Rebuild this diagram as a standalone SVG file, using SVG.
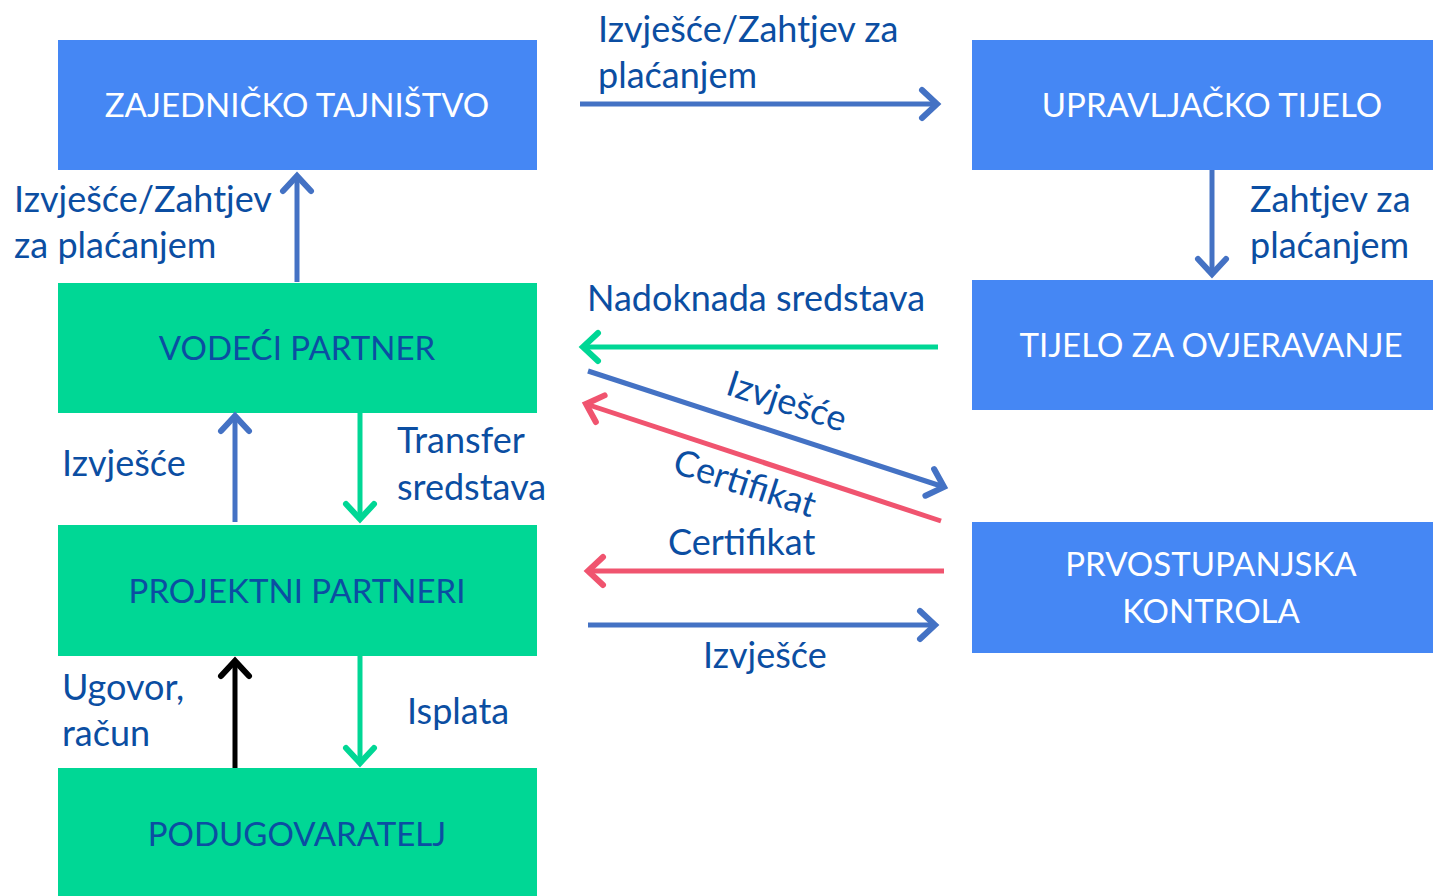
<svg xmlns="http://www.w3.org/2000/svg" width="1433" height="896" viewBox="0 0 1433 896">
<style>
.bb{fill:#4587F4}
.gb{fill:#00D795}
.wt{fill:#FFFFFF;font-family:Lato,"Liberation Sans",sans-serif;font-size:33px;text-anchor:middle}
.dt{fill:#0B4EA2;font-family:Lato,"Liberation Sans",sans-serif;font-size:33px;text-anchor:middle}
.lb{fill:#0B4EA2;font-family:Lato,"Liberation Sans",sans-serif;font-size:36px}
.c{fill:none;stroke-width:5}
.blue{stroke:#4472C4}
.green{stroke:#00D795}
.red{stroke:#F0546F}
.black{stroke:#000000}
</style>
<defs>
<marker id="mb" markerUnits="userSpaceOnUse" orient="auto" refX="0" refY="0" markerWidth="40" markerHeight="40" viewBox="-20 -20 40 40" overflow="visible"><path d="M-15,-14 L0,0 L-15,14" fill="none" stroke="#4472C4" stroke-width="6" stroke-linecap="round"/></marker>
<marker id="mg" markerUnits="userSpaceOnUse" orient="auto" refX="0" refY="0" markerWidth="40" markerHeight="40" viewBox="-20 -20 40 40" overflow="visible"><path d="M-15,-14 L0,0 L-15,14" fill="none" stroke="#00D795" stroke-width="6" stroke-linecap="round"/></marker>
<marker id="mr" markerUnits="userSpaceOnUse" orient="auto" refX="0" refY="0" markerWidth="40" markerHeight="40" viewBox="-20 -20 40 40" overflow="visible"><path d="M-15,-14 L0,0 L-15,14" fill="none" stroke="#F0546F" stroke-width="6" stroke-linecap="round"/></marker>
<marker id="mk" markerUnits="userSpaceOnUse" orient="auto" refX="0" refY="0" markerWidth="40" markerHeight="40" viewBox="-20 -20 40 40" overflow="visible"><path d="M-15,-14 L0,0 L-15,14" fill="none" stroke="#000000" stroke-width="6" stroke-linecap="round"/></marker>
</defs>
<rect width="1433" height="896" fill="#FFFFFF"/>
<g id="zajednicko-tajnistvo"><rect class="bb" x="58" y="40" width="479" height="130"/><text class="wt" x="297" y="117">ZAJEDNIČKO TAJNIŠTVO</text></g>
<g id="upravljacko-tijelo"><rect class="bb" x="972" y="40" width="461" height="130"/><text class="wt" x="1212" y="117">UPRAVLJAČKO TIJELO</text></g>
<g id="tijelo-za-ovjeravanje"><rect class="bb" x="972" y="280" width="461" height="130"/><text class="wt" x="1211" y="357">TIJELO ZA OVJERAVANJE</text></g>
<g id="prvostupanjska-kontrola"><rect class="bb" x="972" y="522" width="461" height="131"/><text class="wt" x="1211" y="576">PRVOSTUPANJSKA</text><text class="wt" x="1211" y="623">KONTROLA</text></g>
<g id="vodeci-partner"><rect class="gb" x="58" y="283" width="479" height="130"/><text class="dt" x="297" y="360">VODEĆI PARTNER</text></g>
<g id="projektni-partneri"><rect class="gb" x="58" y="525" width="479" height="131"/><text class="dt" x="297" y="603">PROJEKTNI PARTNERI</text></g>
<g id="podugovaratelj"><rect class="gb" x="58" y="768" width="479" height="128"/><text class="dt" x="297" y="846">PODUGOVARATELJ</text></g>
<g id="connectors">
<line class="c blue" x1="580" y1="104" x2="937" y2="104" marker-end="url(#mb)"/>
<line class="c blue" x1="297" y1="282" x2="297" y2="176" marker-end="url(#mb)"/>
<line class="c blue" x1="1212" y1="170" x2="1212" y2="274" marker-end="url(#mb)"/>
<line class="c green" x1="938" y1="347" x2="583" y2="347" marker-end="url(#mg)"/>
<line class="c blue" x1="588" y1="371" x2="944" y2="487" marker-end="url(#mb)"/>
<line class="c red" x1="941" y1="521" x2="586" y2="404" marker-end="url(#mr)"/>
<line class="c red" x1="944" y1="571" x2="588" y2="571" marker-end="url(#mr)"/>
<line class="c blue" x1="588" y1="625" x2="935" y2="625" marker-end="url(#mb)"/>
<line class="c blue" x1="235" y1="522" x2="235" y2="416" marker-end="url(#mb)"/>
<line class="c green" x1="360" y1="413" x2="360" y2="519" marker-end="url(#mg)"/>
<line class="c black" x1="235" y1="768" x2="235" y2="661" marker-end="url(#mk)"/>
<line class="c green" x1="360" y1="656" x2="360" y2="763" marker-end="url(#mg)"/>
</g>
<g id="labels">
<text class="lb" x="598" y="42">Izvješće/Zahtjev za</text>
<text class="lb" x="598" y="88">plaćanjem</text>
<text class="lb" x="14" y="212">Izvješće/Zahtjev</text>
<text class="lb" x="14" y="258">za plaćanjem</text>
<text class="lb" x="1250" y="212">Zahtjev za</text>
<text class="lb" x="1250" y="258">plaćanjem</text>
<text class="lb" x="587" y="311">Nadoknada sredstava</text>
<text class="lb" x="0" y="0" text-anchor="middle" transform="translate(783,413) rotate(18)">Izvješće</text>
<text class="lb" x="0" y="0" text-anchor="middle" transform="translate(741,495) rotate(18)">Certifikat</text>
<text class="lb" x="668" y="555">Certifikat</text>
<text class="lb" x="703" y="668">Izvješće</text>
<text class="lb" x="62" y="476">Izvješće</text>
<text class="lb" x="397" y="453">Transfer</text>
<text class="lb" x="397" y="500">sredstava</text>
<text class="lb" x="62" y="700">Ugovor,</text>
<text class="lb" x="62" y="746">račun</text>
<text class="lb" x="407" y="724">Isplata</text>
</g>
</svg>
